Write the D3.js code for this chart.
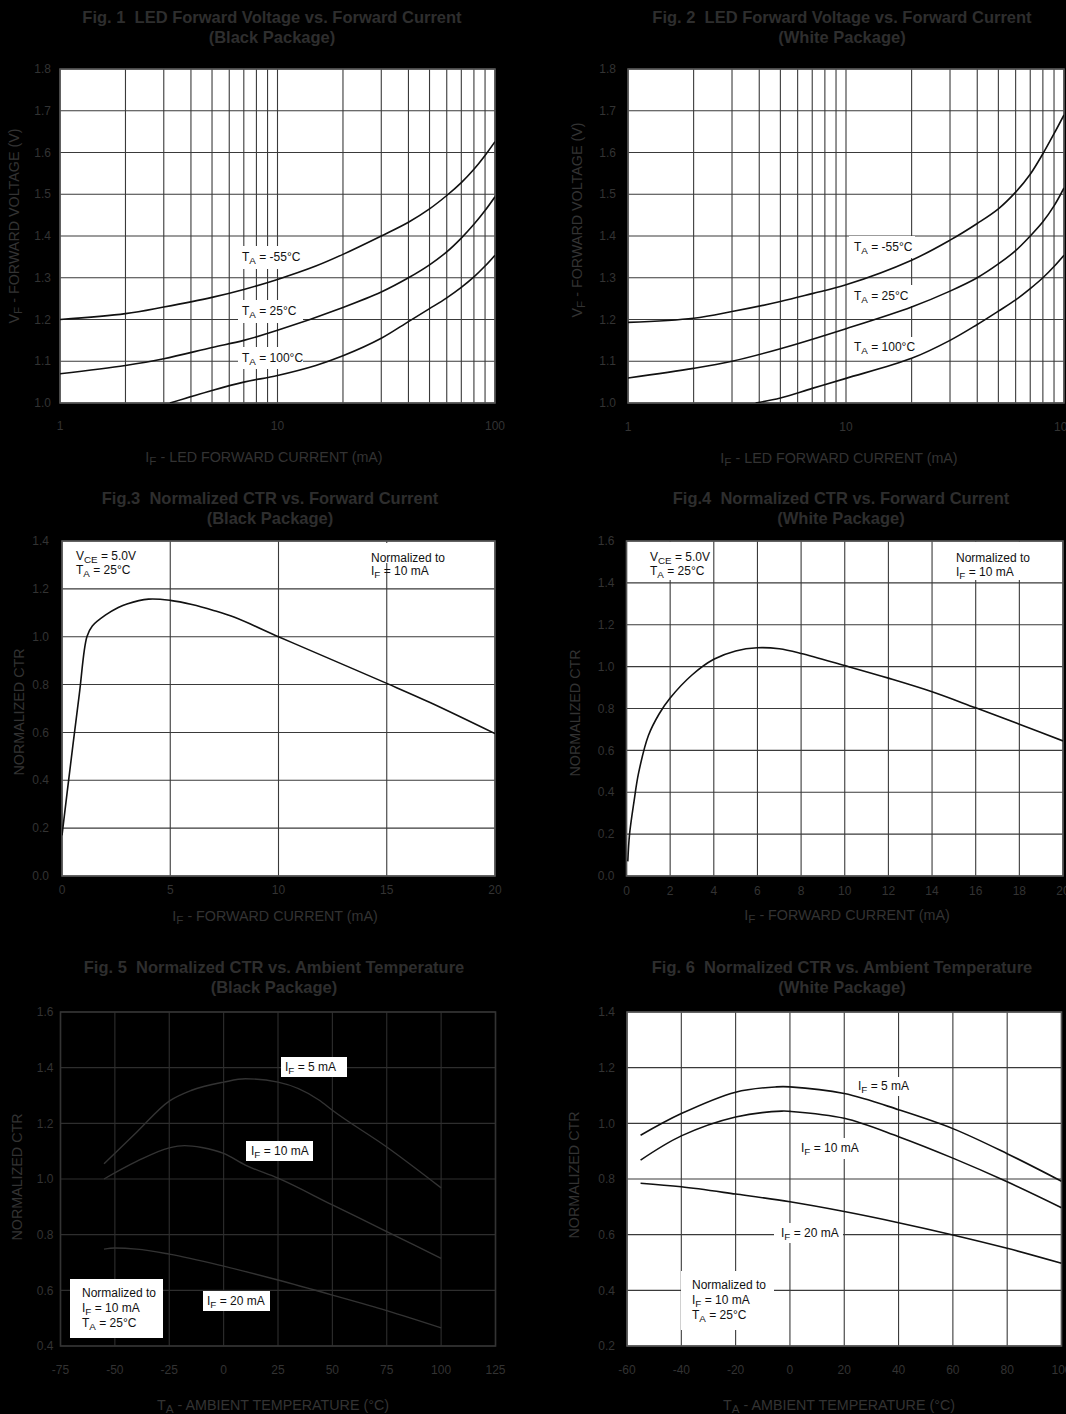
<!DOCTYPE html>
<html lang="en">
<head>
<meta charset="UTF-8">
<title>LED Forward Voltage and Normalized CTR</title>
<script src="https://d3js.org/d3.v7.min.js"></script>
<style>
  body { margin: 0; background: #000; }
  svg { display: block; font-family: "Liberation Sans", Arial, Helvetica, sans-serif; }
  text { white-space: pre; }
</style>
</head>
<body>
<div id="chart"></div>
<script>
// ---- values ----

// Fig 1: VF vs IF, black package (IF in mA, VF in V)
const f1IfM55 = [1, 2, 3, 5, 7, 10, 15, 20, 30, 40, 50, 60, 70, 80, 90, 100];
const f1VfM55 = [1.200, 1.214, 1.230, 1.253, 1.272, 1.296, 1.328, 1.356, 1.400, 1.433, 1.465, 1.497, 1.528, 1.560, 1.593, 1.626];
const f1If25 = [1, 2, 3, 5, 7, 10, 20, 30, 40, 50, 60, 70, 80, 90, 100];
const f1Vf25 = [1.070, 1.090, 1.106, 1.133, 1.150, 1.174, 1.229, 1.266, 1.300, 1.331, 1.362, 1.395, 1.428, 1.461, 1.494];
const f1If100 = [3.2, 5, 7, 10, 15, 20, 30, 40, 50, 60, 70, 80, 90, 100];
const f1Vf100 = [1.000, 1.030, 1.050, 1.066, 1.090, 1.113, 1.155, 1.195, 1.226, 1.252, 1.277, 1.302, 1.328, 1.354];

// Fig 2: VF vs IF, white package
const f2IfM55 = [1, 2, 3, 5, 7, 10, 20, 30, 40, 50, 60, 70, 80, 90, 100];
const f2VfM55 = [1.193, 1.203, 1.219, 1.243, 1.262, 1.283, 1.342, 1.390, 1.430, 1.465, 1.505, 1.548, 1.597, 1.645, 1.690];
const f2If25 = [1, 2, 3, 5, 10, 20, 30, 40, 50, 60, 70, 80, 90, 100];
const f2Vf25 = [1.060, 1.083, 1.100, 1.130, 1.178, 1.230, 1.268, 1.300, 1.333, 1.365, 1.400, 1.434, 1.472, 1.515];
const f2If100 = [3.85, 5, 7, 10, 20, 30, 40, 50, 60, 70, 80, 90, 100];
const f2Vf100 = [1.000, 1.012, 1.035, 1.059, 1.107, 1.150, 1.188, 1.220, 1.247, 1.274, 1.300, 1.327, 1.354];

// Fig 3: normalized CTR vs IF, black package
const f3If = [0, 0.4, 0.8, 1.15, 1.4, 2, 2.6, 3, 4, 5, 6, 7, 8, 10, 12, 15, 17, 20];
const f3Ctr = [0.17, 0.47, 0.76, 1.00, 1.045, 1.09, 1.122, 1.137, 1.157, 1.152, 1.135, 1.110, 1.080, 1.000, 0.922, 0.805, 0.725, 0.595];

// Fig 4: normalized CTR vs IF, white package
const f4If = [0.06, 0.14, 0.35, 0.55, 1, 1.5, 2, 3, 4, 5, 6, 7, 8, 10, 12, 14, 16, 18, 20];
const f4Ctr = [0.07, 0.20, 0.36, 0.49, 0.67, 0.775, 0.85, 0.96, 1.035, 1.075, 1.09, 1.085, 1.063, 1.005, 0.945, 0.88, 0.803, 0.725, 0.645];

// Fig 5: normalized CTR vs TA, black package
const f5Ta5 = [-55, -40, -25, -15, 0, 10, 25, 44, 50, 75, 100];
const f5Ctr5 = [1.055, 1.168, 1.280, 1.318, 1.348, 1.360, 1.348, 1.283, 1.247, 1.115, 0.968];
const f5Ta10 = [-55, -40, -25, -18, -10, 0, 10, 25, 50, 75, 100];
const f5Ctr10 = [1.000, 1.063, 1.112, 1.120, 1.113, 1.092, 1.050, 1.003, 0.907, 0.811, 0.715];
const f5Ta20 = [-55, -50, -40, -25, 0, 25, 50, 75, 100];
const f5Ctr20 = [0.748, 0.752, 0.748, 0.730, 0.687, 0.637, 0.583, 0.527, 0.465];

// Fig 6: normalized CTR vs TA, white package
const f6Ta5 = [-55, -40, -20, -5, 0, 20, 40, 60, 80, 100];
const f6Ctr5 = [0.957, 1.035, 1.112, 1.131, 1.131, 1.107, 1.049, 0.981, 0.891, 0.792];
const f6Ta10 = [-55, -40, -20, -3, 0, 20, 40, 60, 80, 100];
const f6Ctr10 = [0.868, 0.955, 1.023, 1.044, 1.043, 1.018, 0.952, 0.875, 0.790, 0.697];
const f6Ta20 = [-55, -40, -20, 0, 20, 40, 60, 80, 100];
const f6Ctr20 = [0.785, 0.772, 0.746, 0.718, 0.683, 0.643, 0.599, 0.551, 0.497];

// ticks and grid
const logXTicks = [1, 10, 100];
const logXGrid = [1, 2, 3, 4, 5, 6, 7, 8, 9, 10, 20, 30, 40, 50, 60, 70, 80, 90, 100];
const vfTicks = [1.0, 1.1, 1.2, 1.3, 1.4, 1.5, 1.6, 1.7, 1.8];
const f3XTicks = [0, 5, 10, 15, 20];
const f3YTicks = [0, 0.2, 0.4, 0.6, 0.8, 1.0, 1.2, 1.4];
const f4XTicks = [0, 2, 4, 6, 8, 10, 12, 14, 16, 18, 20];
const f4YTicks = [0, 0.2, 0.4, 0.6, 0.8, 1.0, 1.2, 1.4, 1.6];
const f5XTicks = [-75, -50, -25, 0, 25, 50, 75, 100, 125];
const f5YTicks = [0.4, 0.6, 0.8, 1.0, 1.2, 1.4, 1.6];
const f6XTicks = [-60, -40, -20, 0, 20, 40, 60, 80, 100];
const f6YTicks = [0.2, 0.4, 0.6, 0.8, 1.0, 1.2, 1.4];

const zip = (xs, ys) => xs.map((v, i) => [v, ys[i]]);

const W = 1066, H = 1414;
const svg = d3.select("#chart").append("svg").attr("width", W).attr("height", H);
svg.append("rect").attr("width", W).attr("height", H).attr("fill", "#000");

// "T{A} = 25°C" -> T with subscript A
function rich(text, str) {
  let cur = 0;
  str.split(/\{([^}]*)\}/).forEach((part, i) => {
    if (!part) return;
    const sub = i % 2 === 1;
    const target = sub ? 2.5 : 0;
    text.append("tspan")
      .attr("dy", target - cur)
      .attr("font-size", sub ? "0.82em" : null)
      .text(part);
    cur = target;
  });
}

let clipId = 0;
function panel(p) {
  const g = svg.append("g");
  const x = (p.log ? d3.scaleLog() : d3.scaleLinear()).domain(p.xDomain).range([p.left, p.right]);
  const y = d3.scaleLinear().domain(p.yDomain).range([p.bottom, p.top]);
  const outText = "#333";
  const gridCol = p.dark ? "#2e2e2e" : "#3a3a3a";

  if (!p.dark) {
    g.append("rect").attr("x", p.left).attr("y", p.top)
      .attr("width", p.right - p.left).attr("height", p.bottom - p.top).attr("fill", "#fff");
  }

  g.selectAll(".gx").data(p.xGrid).join("line")
    .attr("x1", d => x(d)).attr("x2", d => x(d))
    .attr("y1", p.top).attr("y2", p.bottom)
    .attr("stroke", gridCol).attr("stroke-width", 1.1);
  g.selectAll(".gy").data(p.yTicks).join("line")
    .attr("x1", p.left).attr("x2", p.right)
    .attr("y1", d => y(d)).attr("y2", d => y(d))
    .attr("stroke", gridCol).attr("stroke-width", 1.1);

  // white label boxes break the grid
  p.labels.forEach(l => {
    if (l.box) {
      g.append("rect").attr("x", l.box[0]).attr("y", l.box[1])
        .attr("width", l.box[2] - l.box[0]).attr("height", l.box[3] - l.box[1]).attr("fill", "#fff");
    }
  });

  g.append("rect").attr("x", p.left).attr("y", p.top)
    .attr("width", p.right - p.left).attr("height", p.bottom - p.top)
    .attr("fill", "none").attr("stroke", p.dark ? "#333" : "#555").attr("stroke-width", 1.6);

  const id = "clip" + (clipId++);
  svg.append("clipPath").attr("id", id).append("rect")
    .attr("x", p.left).attr("y", p.top).attr("width", p.right - p.left).attr("height", p.bottom - p.top);

  const line = d3.line().x(d => x(d[0])).y(d => y(d[1])).curve(p.curve || d3.curveCatmullRom.alpha(0.5));
  g.append("g").attr("clip-path", `url(#${id})`)
    .selectAll("path").data(p.series).join("path")
    .attr("d", line)
    .attr("fill", "none")
    .attr("stroke", p.dark ? "#333" : "#111")
    .attr("stroke-width", p.dark ? 1.4 : 1.6);

  p.labels.forEach(l => {
    l.lines.forEach((s, i) => {
      const t = g.append("text").attr("x", l.x).attr("y", l.y + i * l.lh + 4)
        .attr("font-size", 12).attr("fill", "#111");
      rich(t, s);
    });
  });

  // tick labels
  g.selectAll(".ty").data(p.yTicks).join("text")
    .attr("x", p.left - p.yGap).attr("y", d => y(d)).attr("dy", "0.35em")
    .attr("text-anchor", "end").attr("font-size", 12).attr("fill", outText)
    .text(d => d.toFixed(1));
  g.selectAll(".tx").data(p.xTicks).join("text")
    .attr("x", d => x(d)).attr("y", p.bottom + p.xGap).attr("dy", "0.35em")
    .attr("text-anchor", "middle").attr("font-size", 12).attr("fill", outText)
    .text(d => d);

  // titles
  p.title.forEach((s, i) => {
    g.append("text").attr("x", p.titleX).attr("y", p.titleY + i * 20).attr("dy", "0.35em")
      .attr("text-anchor", "middle").attr("font-size", 16.5).attr("font-weight", "bold")
      .attr("fill", "#2e2e2e").text(s);
  });
  const xt = g.append("text").attr("x", p.xTitle[0]).attr("y", p.xTitle[1] + 5)
    .attr("text-anchor", "middle").attr("font-size", 14.3).attr("fill", outText);
  rich(xt, p.xLabel);
  const yt = g.append("text").attr("transform", `translate(${p.yTitle[0] + 5},${p.yTitle[1]}) rotate(-90)`)
    .attr("text-anchor", "middle").attr("font-size", 14.3).attr("fill", outText);
  rich(yt, p.yLabel);
}

// Fig 1
panel({
  log: true, xDomain: [1, 100], yDomain: [1.0, 1.8],
  left: 60, right: 495, top: 69, bottom: 403,
  xGrid: logXGrid, xTicks: logXTicks, yTicks: vfTicks, yGap: 9, xGap: 23,
  series: [zip(f1IfM55, f1VfM55), zip(f1If25, f1Vf25), zip(f1If100, f1Vf100)],
  labels: [
    { x: 242, y: 257, lh: 0, lines: ["T{A} = -55°C"], box: [238, 246, 303, 269] },
    { x: 242, y: 311, lh: 0, lines: ["T{A} = 25°C"], box: [238, 300, 303, 323] },
    { x: 242, y: 358, lh: 0, lines: ["T{A} = 100°C"], box: [238, 347, 303, 369] }
  ],
  title: ["Fig. 1  LED Forward Voltage vs. Forward Current", "(Black Package)"],
  titleX: 272, titleY: 17,
  xLabel: "I{F} - LED FORWARD CURRENT (mA)", xTitle: [264, 457],
  yLabel: "V{F} - FORWARD VOLTAGE (V)", yTitle: [14, 226]
});

// Fig 2
panel({
  log: true, xDomain: [1, 100], yDomain: [1.0, 1.8],
  left: 628, right: 1064, top: 69, bottom: 403,
  xGrid: logXGrid, xTicks: logXTicks, yTicks: vfTicks, yGap: 12, xGap: 24,
  series: [zip(f2IfM55, f2VfM55), zip(f2If25, f2Vf25), zip(f2If100, f2Vf100)],
  labels: [
    { x: 854, y: 247, lh: 0, lines: ["T{A} = -55°C"], box: [849, 236, 915, 258] },
    { x: 854, y: 296, lh: 0, lines: ["T{A} = 25°C"], box: [849, 285, 915, 306] },
    { x: 854, y: 347, lh: 0, lines: ["T{A} = 100°C"], box: [849, 337, 915, 359] }
  ],
  title: ["Fig. 2  LED Forward Voltage vs. Forward Current", "(White Package)"],
  titleX: 842, titleY: 17,
  xLabel: "I{F} - LED FORWARD CURRENT (mA)", xTitle: [839, 458],
  yLabel: "V{F} - FORWARD VOLTAGE (V)", yTitle: [577, 220]
});

// Fig 3
panel({
  log: false, xDomain: [0, 20], yDomain: [0, 1.4],
  left: 62, right: 495, top: 541, bottom: 876,
  xGrid: f3XTicks, xTicks: f3XTicks, yTicks: f3YTicks, yGap: 13, xGap: 14,
  series: [zip(f3If, f3Ctr)],
  labels: [
    { x: 76, y: 556, lh: 14, lines: ["V{CE} = 5.0V", "T{A} = 25°C"], box: [70, 543, 142, 578] },
    { x: 371, y: 558, lh: 13, lines: ["Normalized to", "I{F} = 10 mA"], box: [364, 543, 445, 563] }
  ],
  title: ["Fig.3  Normalized CTR vs. Forward Current", "(Black Package)"],
  titleX: 270, titleY: 498,
  xLabel: "I{F} - FORWARD CURRENT (mA)", xTitle: [275, 916],
  yLabel: "NORMALIZED CTR", yTitle: [19, 712]
});

// Fig 4
panel({
  log: false, xDomain: [0, 20], yDomain: [0, 1.6],
  left: 626.5, right: 1063, top: 541, bottom: 876,
  xGrid: f4XTicks, xTicks: f4XTicks, yTicks: f4YTicks, yGap: 12, xGap: 15,
  series: [zip(f4If, f4Ctr)],
  labels: [
    { x: 650, y: 557, lh: 14, lines: ["V{CE} = 5.0V", "T{A} = 25°C"], box: [645, 542, 712, 580] },
    { x: 956, y: 558, lh: 14, lines: ["Normalized to", "I{F} = 10 mA"], box: [950, 542, 1022, 580] }
  ],
  title: ["Fig.4  Normalized CTR vs. Forward Current", "(White Package)"],
  titleX: 841, titleY: 498,
  xLabel: "I{F} - FORWARD CURRENT (mA)", xTitle: [847, 915],
  yLabel: "NORMALIZED CTR", yTitle: [575, 713]
});

// Fig 5 (plot area left transparent, as in the source)
panel({
  log: false, dark: true, xDomain: [-75, 125], yDomain: [0.4, 1.6],
  left: 60.5, right: 495.5, top: 1012, bottom: 1346,
  xGrid: f5XTicks, xTicks: f5XTicks, yTicks: f5YTicks, yGap: 7, xGap: 24,
  curve: d3.curveMonotoneX,
  series: [zip(f5Ta5, f5Ctr5), zip(f5Ta10, f5Ctr10), zip(f5Ta20, f5Ctr20)],
  labels: [
    { x: 285, y: 1067, lh: 0, lines: ["I{F} = 5 mA"], box: [281, 1057, 347, 1077] },
    { x: 251, y: 1151, lh: 0, lines: ["I{F} = 10 mA"], box: [246, 1141, 313, 1161] },
    { x: 207, y: 1301, lh: 0, lines: ["I{F} = 20 mA"], box: [203, 1291, 270, 1311] },
    { x: 82, y: 1293, lh: 15, lines: ["Normalized to", "I{F} = 10 mA", "T{A} = 25°C"], box: [70, 1279, 163, 1338] }
  ],
  title: ["Fig. 5  Normalized CTR vs. Ambient Temperature", "(Black Package)"],
  titleX: 274, titleY: 967,
  xLabel: "T{A} - AMBIENT TEMPERATURE (°C)", xTitle: [273, 1405],
  yLabel: "NORMALIZED CTR", yTitle: [17, 1177]
});

// Fig 6
panel({
  log: false, xDomain: [-60, 100], yDomain: [0.2, 1.4],
  left: 627, right: 1061.5, top: 1012, bottom: 1346,
  xGrid: f6XTicks, xTicks: f6XTicks, yTicks: f6YTicks, yGap: 12, xGap: 24,
  series: [zip(f6Ta5, f6Ctr5), zip(f6Ta10, f6Ctr10), zip(f6Ta20, f6Ctr20)],
  labels: [
    { x: 858, y: 1086, lh: 0, lines: ["I{F} = 5 mA"], box: [853, 1077, 912, 1096] },
    { x: 801, y: 1148, lh: 0, lines: ["I{F} = 10 mA"], box: [796, 1138, 862, 1159] },
    { x: 781, y: 1233, lh: 0, lines: ["I{F} = 20 mA"], box: [774, 1223, 843, 1243] },
    { x: 692, y: 1285, lh: 15, lines: ["Normalized to", "I{F} = 10 mA", "T{A} = 25°C"], box: [681, 1271, 774, 1330] }
  ],
  title: ["Fig. 6  Normalized CTR vs. Ambient Temperature", "(White Package)"],
  titleX: 842, titleY: 967,
  xLabel: "T{A} - AMBIENT TEMPERATURE (°C)", xTitle: [839, 1405],
  yLabel: "NORMALIZED CTR", yTitle: [574, 1175]
});
</script>
</body>
</html>
